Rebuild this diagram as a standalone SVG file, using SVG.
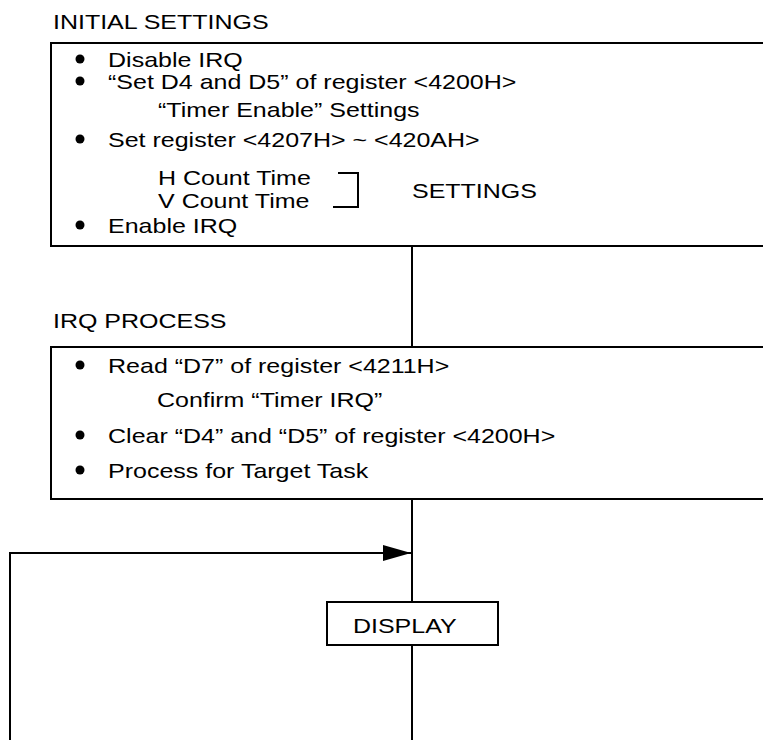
<svg xmlns="http://www.w3.org/2000/svg" width="763" height="740" viewBox="0 0 763 740">
<defs>
<style>
text{font-family:"Liberation Sans",Arial,sans-serif;font-size:21px;fill:#000;}
.box{fill:none;stroke:#000;stroke-width:2;}
.ln{fill:none;stroke:#000;stroke-width:2;}
</style>
<marker id="arr" viewBox="0 0 28 16" refX="28" refY="8" markerWidth="28" markerHeight="16" markerUnits="userSpaceOnUse" orient="auto">
<path d="M0,0 L28,8 L0,16 Z" fill="#000"/>
</marker>
</defs>
<rect width="763" height="740" fill="#fff"/>
<g id="connectors">
<path class="ln" d="M412,246 V347"/>
<path class="ln" d="M412,499 V602"/>
<path class="ln" d="M412,645 V740"/>
<path class="ln" d="M10,740 V553 H411" marker-end="url(#arr)"/>
</g>
<g id="initial-settings">
<rect class="box" x="51" y="43" width="730" height="203"/>
<circle cx="80" cy="59" r="4.5"/>
<circle cx="80" cy="81" r="4.5"/>
<circle cx="80" cy="139" r="4.5"/>
<circle cx="80" cy="225" r="4.5"/>
<path class="ln" d="M338,173 H358 V207 H333"/>
<g transform="scale(1.19 1)">
<text x="44.5" y="29">INITIAL SETTINGS</text>
<text x="90.8" y="67">Disable IRQ</text>
<text x="90.8" y="89">“Set D4 and D5” of register &lt;4200H&gt;</text>
<text x="132.8" y="117">“Timer Enable” Settings</text>
<text x="90.8" y="147">Set register &lt;4207H&gt; ~ &lt;420AH&gt;</text>
<text x="132.8" y="185">H Count Time</text>
<text x="132.8" y="208">V Count Time</text>
<text x="346.2" y="198">SETTINGS</text>
<text x="90.8" y="233">Enable IRQ</text>
</g>
</g>
<g id="irq-process">
<rect class="box" x="51" y="347" width="730" height="152"/>
<circle cx="80" cy="365" r="4.5"/>
<circle cx="80" cy="435" r="4.5"/>
<circle cx="80" cy="470" r="4.5"/>
<g transform="scale(1.19 1)">
<text x="44.5" y="328">IRQ PROCESS</text>
<text x="90.8" y="373">Read “D7” of register &lt;4211H&gt;</text>
<text x="131.9" y="407">Confirm “Timer IRQ”</text>
<text x="90.8" y="443">Clear “D4” and “D5” of register &lt;4200H&gt;</text>
<text x="90.8" y="478">Process for Target Task</text>
</g>
</g>
<g id="display">
<rect class="box" x="327" y="602" width="171" height="43" fill="#fff"/>
<text x="296.6" y="633" transform="scale(1.19 1)">DISPLAY</text>
</g>
</svg>
